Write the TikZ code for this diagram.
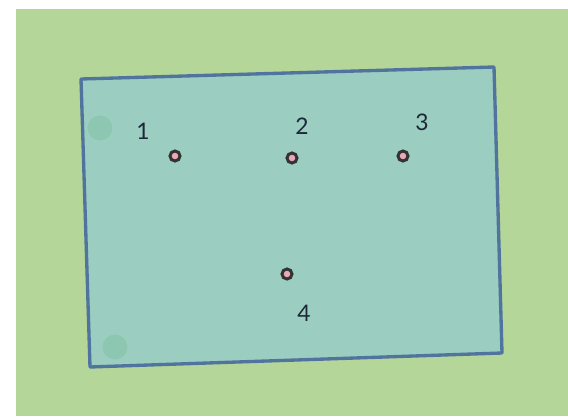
\documentclass[tikz,border=0pt]{standalone}
\usepackage{fontspec}
\setmainfont{Lato}
\usepackage{xcolor}
\usetikzlibrary{positioning}
\definecolor{fieldgreen}{RGB}{181,214,153}
\definecolor{plotfill}{RGB}{155,205,193}
\definecolor{plotedge}{RGB}{80,116,158}
\definecolor{pinkdot}{RGB}{236,168,184}
\definecolor{labink}{RGB}{28,40,58}
\tikzset{
  ptmark/.style={circle, draw=black!80, fill=pinkdot, line width=1.7pt,
                 minimum size=0.2cm, inner sep=0pt},
  ptlab/.style={font=\fontsize{13}{15}\selectfont, text=labink, inner sep=0pt},
  ghost/.style={circle, fill=green!55!black, opacity=0.08, minimum size=0.5cm,
                inner sep=0pt},
  plotline/.style={draw=plotedge, line width=1.9pt, fill=plotfill, line join=round}
}
\begin{document}
\begin{tikzpicture}[x={(0.02cm,0)}, y={(0,-0.02cm)}]
  \useasboundingbox (0,0) rectangle (568,416);
  \fill[white] (0,0) rectangle (568,416);
  \fill[fieldgreen] (16,9) rectangle (568,416);
  % plot outline
  \draw[plotline] (81,79) -- (494,67) -- (502,353) -- (90,367) -- cycle;
  \node[ghost] (g1) at (100,128) {};
  \node[ghost] (g2) at (115,347) {};
  % sample points
  \node[ptmark] (pt1) at (175,156) {};
  \node[ptmark] (pt2) at (292,158) {};
  \node[ptmark] (pt3) at (403,156) {};
  \node[ptmark] (pt4) at (287,274) {};
  \node[ptlab] (lab1) at (143,131) {1};
  \node[ptlab] (lab2) at (302,126) {2};
  \node[ptlab] (lab3) at (422,122) {3};
  \node[ptlab] (lab4) at (304,313) {4};
\end{tikzpicture}
\end{document}
